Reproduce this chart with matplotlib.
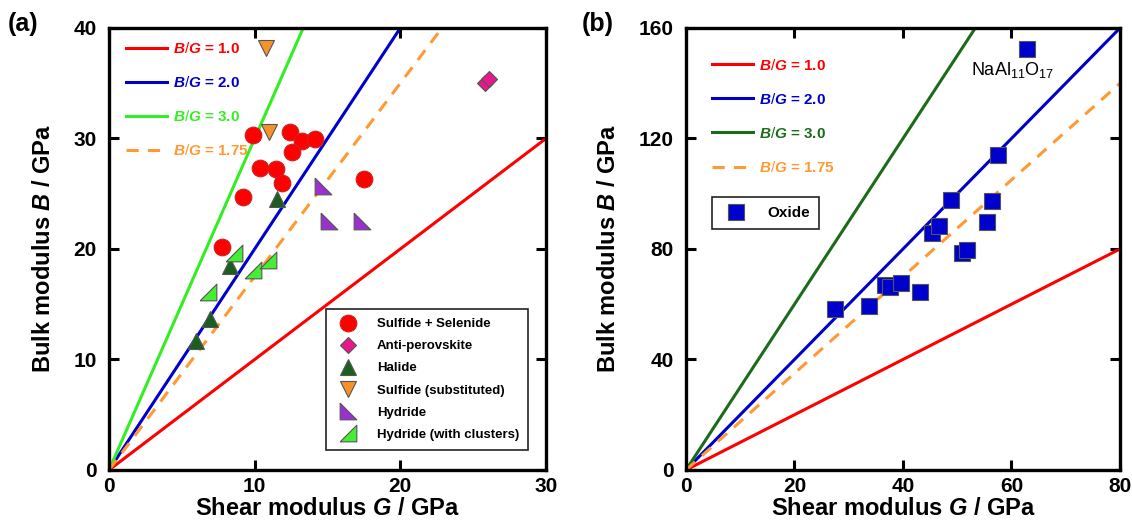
import numpy as np
import matplotlib
matplotlib.use('Agg')
import matplotlib.pyplot as plt

plt.rcParams['font.family'] = ['Liberation Sans', 'DejaVu Sans']
plt.rcParams['font.weight'] = 'bold'
plt.rcParams['mathtext.fontset'] = 'custom'
plt.rcParams['mathtext.it'] = 'Liberation Sans:bold:italic'
plt.rcParams['mathtext.rm'] = 'Liberation Sans:weight=normal'
plt.rcParams['mathtext.bf'] = 'Liberation Sans:bold'

# panel (a) data
sulfide_G = [9.86, 12.42, 13.25, 14.14, 12.56, 10.36, 11.46, 11.87, 9.2, 17.5, 7.76]
sulfide_B = [30.3, 30.6, 29.8, 29.95, 28.8, 27.3, 27.2, 26.0, 24.7, 26.3, 20.2]
antiperov_G = [25.8, 26.1]
antiperov_B = [35.0, 35.4]
halide_G = [11.5, 8.3, 6.9, 6.0]
halide_B = [24.5, 18.5, 13.7, 11.7]
subst_G = [10.8, 11.0]
subst_B = [38.2, 30.6]
hydride_G = [14.7, 15.1, 17.4]
hydride_B = [25.7, 22.5, 22.5]
cluster_G = [8.6, 6.8, 9.9, 10.9]
cluster_B = [19.6, 16.1, 18.1, 19.0]

# panel (b) data
oxide_G = [62.9, 27.5, 33.7, 36.7, 37.6, 39.6, 43.1, 45.3, 46.6, 48.8, 50.9, 51.8, 55.5, 56.4, 57.5]
oxide_B = [152.4, 58.3, 59.4, 67.0, 66.2, 67.7, 64.4, 85.8, 88.3, 97.7, 78.6, 79.6, 89.8, 97.4, 114.0]

ratios = [1.0, 2.0, 3.0, 1.75]
ratio_labels = ['1.0', '2.0', '3.0', '1.75']

tri_ll = [(-1, 1), (-1, -1), (1, -1), (-1, 1)]   # hydride
tri_lr = [(-1, -1), (1, -1), (1, 1), (-1, -1)]   # hydride (with clusters)

fig = plt.figure(figsize=(11.32, 5.26), dpi=100)
ax1 = fig.add_axes([0.0963, 0.1065, 0.386, 0.8403])
ax2 = fig.add_axes([0.606, 0.1065, 0.3834, 0.8403])


def ratio_lines(ax, xmax, colors, anchor):
    g = np.array([0, xmax])
    for r, lab, c in zip(ratios, ratio_labels, colors):
        ls = (0, (4, 3)) if lab == '1.75' else '-'
        ax.plot(g, r * g, color=c, lw=2.2, ls=ls, label=r'$\mathit{B/G}$ = ' + lab)
    leg = ax.legend(loc='upper left', frameon=False, labelcolor='linecolor',
                    prop={'weight': 'bold', 'size': 11}, handlelength=2.7,
                    labelspacing=1.25, handletextpad=0.4,
                    bbox_to_anchor=anchor)
    ax.add_artist(leg)


def style(ax, xmax, ymax, xt, yt):
    ax.set_xlim(0, xmax)
    ax.set_ylim(0, ymax)
    ax.set_xticks(xt)
    ax.set_yticks(yt)
    ax.tick_params(direction='in', top=True, right=True, length=7, width=2.2,
                   labelsize=15)
    ax.tick_params(axis='y', pad=9)
    ax.tick_params(axis='x', pad=5)
    for s in ax.spines.values():
        s.set_linewidth(2.4)
    ax.set_xlabel('Shear modulus $G$ / GPa', fontsize=17, fontweight='bold', labelpad=1)
    ax.set_ylabel('Bulk modulus $B$ / GPa', fontsize=17, fontweight='bold', labelpad=13)


ratio_lines(ax1, 30, ['#ff0000', '#0000cc', '#33ee22', '#ff9933'], (0.007, 1.002))
ek = dict(markeredgecolor='#555555', markeredgewidth=0.8, ls='none')
ax1.plot(sulfide_G, sulfide_B, 'o', ms=12, color='#ff0000', markeredgecolor='#cc2222',
         markeredgewidth=0.8, ls='none', label='Sulfide + Selenide')
ax1.plot(antiperov_G, antiperov_B, 'D', ms=8.5, color='#e8188c', label='Anti-perovskite', **ek)
ax1.plot(halide_G, halide_B, '^', ms=12, color='#1b5e20', label='Halide', **ek)
ax1.plot(subst_G, subst_B, 'v', ms=12, color='#f7922a', label='Sulfide (substituted)', **ek)
ax1.plot(hydride_G, hydride_B, marker=tri_ll, ms=12, color='#9b30d0', label='Hydride', **ek)
ax1.plot(cluster_G, cluster_B, marker=tri_lr, ms=12, color='#44ee33',
         label='Hydride (with clusters)', **ek)
h, l = ax1.get_legend_handles_labels()
leg = ax1.legend(h[4:], l[4:], loc='lower right', bbox_to_anchor=(0.96, 0.045),
                 fancybox=False, edgecolor='#222222', framealpha=1, numpoints=1,
                 prop={'weight': 'bold', 'size': 9.5}, labelspacing=0.75,
                 handletextpad=1.2, borderpad=0.7, borderaxespad=0)
leg.get_frame().set_linewidth(1.2)
style(ax1, 30, 40, [0, 10, 20, 30], [0, 10, 20, 30, 40])

ratio_lines(ax2, 80, ['#ff0000', '#0000cc', '#1a6b1a', '#ff9933'], (0.028, 0.964))
ax2.plot(oxide_G, oxide_B, 's', ms=12, color='#0000cc', label='Oxide',
         markeredgecolor='#555555', markeredgewidth=0.8, ls='none')
h, l = ax2.get_legend_handles_labels()
leg = ax2.legend(h[4:], l[4:], loc='upper left', bbox_to_anchor=(0.06, 0.618),
                 fancybox=False, edgecolor='#222222', framealpha=1, numpoints=1,
                 prop={'weight': 'bold', 'size': 11}, handletextpad=1.0,
                 borderpad=0.6, borderaxespad=0)
leg.get_frame().set_linewidth(1.2)
ax2.text(60.3, 144.8, 'NaAl$_{11}$O$_{17}$', fontsize=13, fontweight='normal',
         ha='center', va='center')
style(ax2, 80, 160, [0, 20, 40, 60, 80], [0, 40, 80, 120, 160])

fig.text(0.007, 0.955, '(a)', fontsize=18, fontweight='bold', va='center')
fig.text(0.514, 0.955, '(b)', fontsize=18, fontweight='bold', va='center')

fig.savefig('out.png', dpi=100)
